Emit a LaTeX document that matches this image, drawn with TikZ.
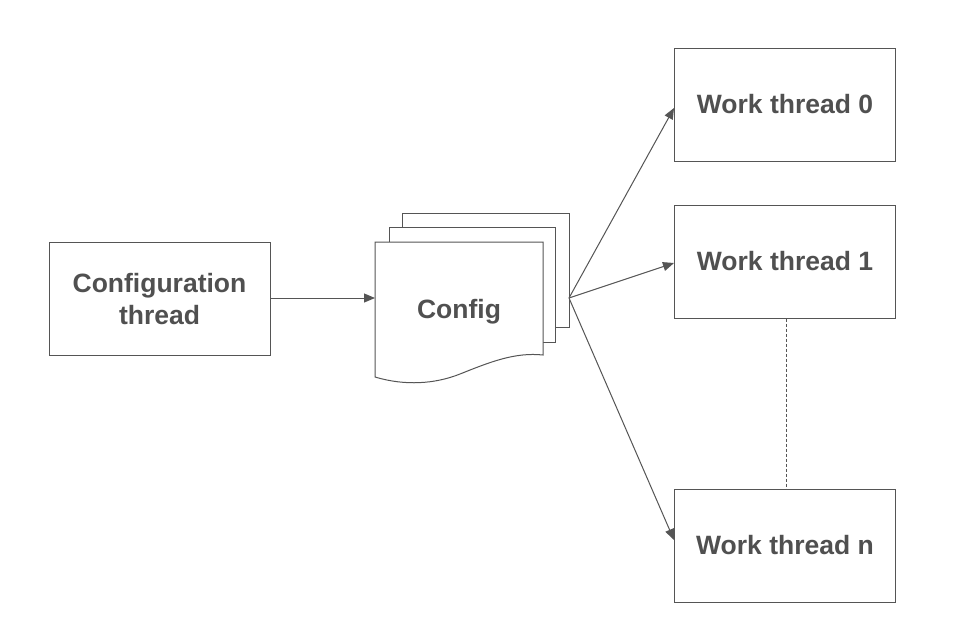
\documentclass[tikz,border=0pt]{standalone}
\usepackage{fontspec}
\setmainfont{Liberation Sans}
\usetikzlibrary{arrows.meta}
\definecolor{ln}{HTML}{555555}
\definecolor{tx}{HTML}{505050}
\tikzset{
  lbl/.style={font=\fontsize{26.5}{32}\selectfont\bfseries, text=tx, align=center},
  box/.style={draw=ln, line width=1pt, fill=white, minimum width=221pt, minimum height=113pt, inner sep=0pt, lbl},
  page/.style={draw=ln, line width=1pt, fill=white},
  conn/.style={draw=ln, line width=1pt, -{Triangle[length=11pt,width=9pt]}},
}
\begin{document}
\begin{tikzpicture}[x=1pt,y=-1pt]
\useasboundingbox[fill=white] (0,0) rectangle (964,641);
% nodes
\node[box] (cfg) at (159.5,299) {Configuration\\thread};
\node[box] (w0) at (785,104.5) {Work thread 0};
\node[box] (w1) at (785,261.5) {Work thread 1};
\node[box] (wn) at (785,545.5) {Work thread n};
% document stack
\draw[page] (402,213) rectangle (569,327);
\draw[page] (389,227) rectangle (555,342);
\draw[page] (375,242) -- (543,242) -- (543,355)
  .. controls (515,352) and (490,362) .. (460,374)
  .. controls (435,384) and (405,386) .. (375,377) -- cycle;
\node[lbl] (cf) at (459,312) {Config};
\coordinate (cfin) at (375,298);
\coordinate (cfout) at (569,298);
% connectors
\draw[conn] (cfg.east |- cfin) -- (cfin);
\draw[conn] (cfout) -- ([yshift=-3.5pt]w0.west);
\draw[conn] (cfout) -- ([yshift=-1.5pt]w1.west);
\draw[conn] (cfout) -- ([yshift=5.5pt]wn.west);
\draw[ln, line width=0.8pt, dash pattern=on 3pt off 2pt] ([xshift=1pt]w1.south) -- ([xshift=1pt]wn.north);
\end{tikzpicture}
\end{document}
